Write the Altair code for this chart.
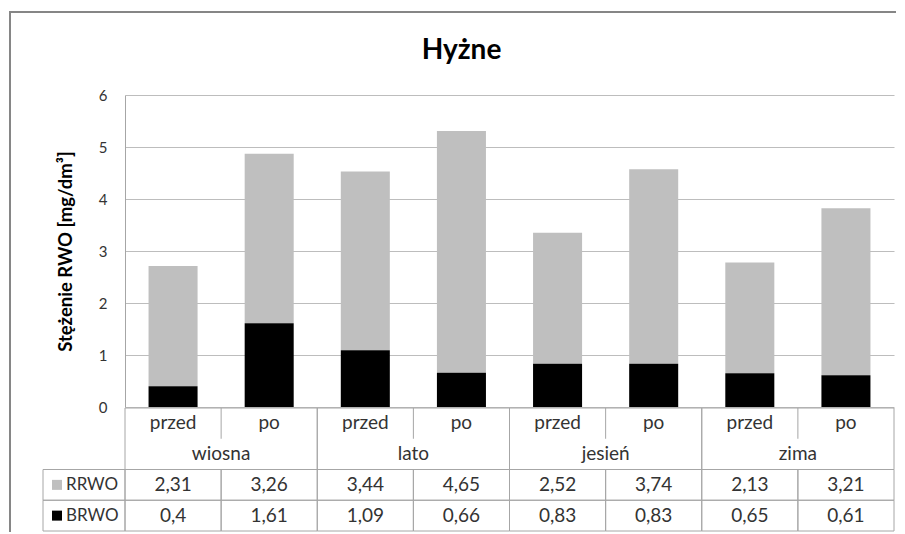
import altair as alt
import pandas as pd

# ---- data ----
seasons = ["wiosna", "lato", "jesień", "zima"]
timings = ["przed", "po"]
series_names = ["RRWO", "BRWO"]
series_colors = ["#bfbfbf", "#000000"]
rrwo = [2.31, 3.26, 3.44, 4.65, 2.52, 3.74, 2.13, 3.21]
brwo = [0.4, 1.61, 1.09, 0.66, 0.83, 0.83, 0.65, 0.61]
y_ticks = [0, 1, 2, 3, 4, 5, 6]
title_text = "Hyżne"
y_title = "Stężenie RWO [mg/dm³]"

combos = [f"{s}|{t}" for s in seasons for t in timings]
series_vals = {"RRWO": rrwo, "BRWO": brwo}
stack_order = {"BRWO": 0, "RRWO": 1}
table_row = {"RRWO": 2, "BRWO": 3}

records = []
for i, c in enumerate(combos):
    s, t = c.split("|")
    for name in series_names:
        records.append(dict(combo=c, season=s, timing=t, series=name,
                            value=series_vals[name][i], stack=stack_order[name],
                            row=table_row[name]))
df = pd.DataFrame(records)
season_df = pd.DataFrame({"season": seasons})
legend_df = pd.DataFrame({"series": series_names, "row": [table_row[n] for n in series_names]})
frame_df = pd.DataFrame({"k": [0]})

FONT = "Lato"
TXT = "#333333"
LINE = "#a6a6a6"
GRID = "#bdbdbd"
TFS = 19
LFS = 17

W, H = 769, 312
ty = alt.Scale(domain=[0, 4], range=[H + 1, H + 124])

x_combo = alt.X("combo:N", sort=combos,
                scale=alt.Scale(paddingInner=0, paddingOuter=0), axis=None)
x_season = alt.X("season:N", sort=seasons,
                 scale=alt.Scale(paddingInner=0, paddingOuter=0), axis=None)
color = alt.Color("series:N", scale=alt.Scale(domain=series_names, range=series_colors),
                  legend=None)

bars = alt.Chart(df).mark_bar(width={"band": 0.51}).encode(
    x=x_combo,
    y=alt.Y("value:Q", stack="zero",
            scale=alt.Scale(domain=[0, 6], nice=False),
            axis=alt.Axis(values=y_ticks, title=y_title, grid=True, gridColor=GRID,
                          ticks=False, domain=True, domainColor=LINE,
                          labelFont=FONT, labelFontSize=15, labelColor=TXT,
                          labelPadding=18, titleFont=FONT, titleFontSize=18.5,
                          titleFontWeight="bold", titleColor="black", titlePadding=23)),
    color=color,
    order=alt.Order("stack:Q"),
)

# value rows cells
cells = alt.Chart(df).transform_calculate(row_end="datum.row + 1").mark_rect(
    fillOpacity=0, stroke=LINE, strokeWidth=1).encode(
    x=x_combo,
    y=alt.Y("row:Q", scale=ty, axis=None),
    y2="row_end:Q",
)

# season cells spanning category rows
season_cells = alt.Chart(season_df).transform_calculate(top="0", bottom="2").mark_rect(
    fillOpacity=0, stroke=LINE, strokeWidth=1).encode(
    x=x_season,
    y=alt.Y("top:Q", scale=ty, axis=None),
    y2="bottom:Q",
)

season_sep = alt.Chart(season_df).transform_calculate(top="0", bottom="1").mark_rule(
    stroke=LINE, strokeWidth=1).encode(
    x=x_season,
    y=alt.Y("top:Q", scale=ty, axis=None),
    y2="bottom:Q",
)

timing_text = alt.Chart(df).transform_filter("datum.series == 'RRWO'").transform_calculate(
    ym="0.5").mark_text(font=FONT, fontSize=TFS, color=TXT, baseline="middle").encode(
    x=x_combo,
    y=alt.Y("ym:Q", scale=ty, axis=None),
    text="timing:N",
)

season_text = alt.Chart(season_df).transform_calculate(ym="1.5").mark_text(
    font=FONT, fontSize=TFS, color=TXT, baseline="middle").encode(
    x=x_season,
    y=alt.Y("ym:Q", scale=ty, axis=None),
    text="season:N",
)

value_text = alt.Chart(df).transform_calculate(
    ym="datum.row + 0.5",
    label="replace(toString(datum.value), '.', ',')").mark_text(
    font=FONT, fontSize=TFS, color=TXT, baseline="middle").encode(
    x=x_combo,
    y=alt.Y("ym:Q", scale=ty, axis=None),
    text="label:N",
)

legend_cells = alt.Chart(legend_df).transform_calculate(row_end="datum.row + 1").mark_rect(
    fillOpacity=0, stroke=LINE, strokeWidth=1).encode(
    x=alt.value(-82), x2=alt.value(0),
    y=alt.Y("row:Q", scale=ty, axis=None),
    y2="row_end:Q",
)

legend_sq = alt.Chart(legend_df).transform_calculate(ym="datum.row + 0.5").mark_square(
    size=100, opacity=1, shape="square").encode(
    x=alt.value(-68),
    y=alt.Y("ym:Q", scale=ty, axis=None),
    color=color,
)

legend_text = alt.Chart(legend_df).transform_calculate(ym="datum.row + 0.5").mark_text(
    font=FONT, fontSize=LFS, color=TXT, align="left", baseline="middle").encode(
    x=alt.value(-59),
    y=alt.Y("ym:Q", scale=ty, axis=None),
    text="series:N",
)

frame = alt.Chart(frame_df).mark_rect(
    fillOpacity=0, stroke="#868686", strokeWidth=2).encode(
    x=alt.value(-115), x2=alt.value(900),
    y=alt.value(-83), y2=alt.value(700),
)

chart = alt.layer(
    frame, bars, cells, season_cells, season_sep, timing_text, season_text,
    value_text, legend_cells, legend_sq, legend_text,
).resolve_scale(x="independent", y="independent").properties(
    width=W, height=H,
    title=alt.Title(title_text, font=FONT, fontSize=28, fontWeight="bold", color="black",
                    anchor="middle", dx=-48, offset=-54, frame="group"),
    padding={"left": 117, "top": 87, "right": 2, "bottom": 125},
    autosize=alt.AutoSizeParams(type="none"),
).configure_view(stroke=None)

chart.save("out.html", embed_options={"renderer": "svg", "actions": False})
